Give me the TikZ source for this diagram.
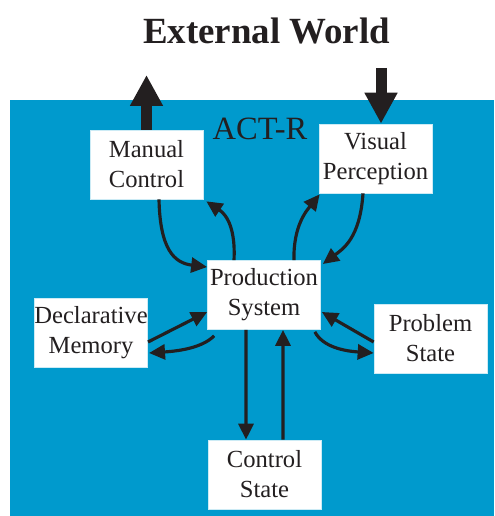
\documentclass[tikz,border=0pt]{standalone}
\usepackage{fontspec}
\setmainfont{Liberation Serif}
\newfontfamily\timesfont{Liberation Serif}
\usetikzlibrary{arrows.meta}
\definecolor{actblue}{RGB}{0,154,205}
\definecolor{ink}{RGB}{35,31,32}
\tikzset{module/.style={fill=white, draw=white!80!actblue, line width=0.4pt,
        minimum width=2.26cm, minimum height=1.38cm, inner sep=0,
        align=center, text=ink, font=\timesfont\fontsize{14}{17}\selectfont}}
\tikzset{link/.style={draw=ink, line width=1.8pt,
        -{Triangle[length=0.32cm,width=0.3cm]}}}
\tikzset{bigarrow/.style={draw=ink, line width=0.22cm,
        -{Triangle[length=0.62cm,width=0.62cm]}}}

\begin{document}
\begin{tikzpicture}[x=0.02cm,y=-0.02cm]
\useasboundingbox (0,0) rectangle (494,516);
% ACT-R area
\fill[actblue] (10,100) rectangle (494,516);
\node[anchor=base, text=ink, font=\timesfont\bfseries\fontsize{21}{25}\selectfont] (world) at (266.5,44) {External World};
\node[anchor=base, text=ink, font=\timesfont\fontsize{18.5}{22}\selectfont] (actr) at (260,140) {ACT-R};
% Modules
\node[module] (man) at (146.5,164.5) {Manual\\Control};
\node[module] (vis) at (375.5,158.5) {Visual\\Perception};
\node[module] (prod) at (264,295) {Production\\System};
\node[module] (decl) at (91,332.5) {Declarative\\Memory};
\node[module] (prob) at (430.5,338.5) {Problem\\State};
\node[module] (ctrl) at (264.5,474.5) {Control\\State};
% World
\coordinate (out) at (146.5,75);
\coordinate (in) at (381,68);
\draw[bigarrow] (man.north) -- (out);
\draw[bigarrow] (in) -- (in |- vis.north);
% Manual
\draw[link] ([xshift=0.25cm]man.south) .. controls +(1,50) and +(-33,-4) .. ([yshift=0.56cm]prod.west);
\draw[link] ([xshift=-0.6cm]prod.north) .. controls +(2,-40) and +(15,10) .. ([xshift=0.06cm,yshift=-0.04cm]man.south east);
% Visual
\draw[link] ([xshift=0.6cm]prod.north) .. controls +(-1,-35) and +(-12,15) .. ([xshift=0.02cm,yshift=-0.02cm]vis.south west);
\draw[link] ([xshift=-0.25cm]vis.south) .. controls +(-3,45) and +(20,-15) .. ([xshift=0.04cm,yshift=0.62cm]prod.east);
% Declarative
\draw[link] ([yshift=-0.19cm]decl.east) -- ([yshift=-0.34cm]prod.west);
\draw[link] ([xshift=0.14cm,yshift=-0.12cm]prod.south west) .. controls +(-12,12) and +(30,-2) .. ([xshift=0.02cm,yshift=-0.41cm]decl.east);
% Problem
\draw[link] ([yshift=-0.07cm]prob.west) -- ([xshift=0.02cm,yshift=-0.34cm]prod.east);
\draw[link] ([xshift=-0.12cm,yshift=-0.04cm]prod.south east) .. controls +(8,15) and +(-30,-2) .. ([yshift=-0.29cm]prob.west);
% Control
\draw[link] ([xshift=-0.36cm]prod.south) -- ([xshift=-0.37cm]ctrl.north);
\draw[link] ([xshift=0.37cm]ctrl.north) -- ([xshift=0.38cm]prod.south);
\end{tikzpicture}
\end{document}
